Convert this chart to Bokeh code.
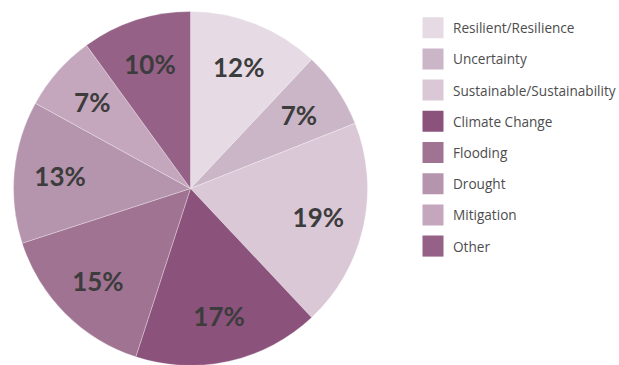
import math
from bokeh.plotting import figure
from bokeh.models import ColumnDataSource, Range1d
from bokeh.core.properties import value
from bokeh.embed import file_html
from bokeh.resources import INLINE

categories = ["Resilient/Resilience", "Uncertainty", "Sustainable/Sustainability",
              "Climate Change", "Flooding", "Drought", "Mitigation", "Other"]
shares = [12, 7, 19, 17, 15, 13, 7, 10]
colors = ["#e6dbe4", "#cbb6c8", "#dac8d7", "#8b527c", "#a07392", "#b594ad", "#c4a6bd", "#956187"]

W, H = 619, 365
CX, CY, R = 190, H - 188, 177

total = sum(shares)
starts, ends, lx, ly, labels = [], [], [], [], []
cum = 0.0
for s in shares:
    a0 = math.pi / 2 - 2 * math.pi * cum / total
    cum += s
    a1 = math.pi / 2 - 2 * math.pi * cum / total
    starts.append(a0)
    ends.append(a1)
    mid = (a0 + a1) / 2
    lx.append(CX + 0.74 * R * math.cos(mid))
    ly.append(CY + 0.74 * R * math.sin(mid))
    labels.append(f"{s}%")

src = ColumnDataSource(dict(start=starts, end=ends, color=colors, lx=lx, ly=ly, label=labels))

p = figure(width=W, height=H, output_backend="svg", toolbar_location=None,
           x_range=Range1d(0, W), y_range=Range1d(0, H), min_border=0)
p.axis.visible = False
p.grid.visible = False
p.outline_line_color = None
p.background_fill_color = "white"
p.border_fill_color = "white"

p.wedge(x=CX, y=CY, radius=R, start_angle="start", end_angle="end", direction="clock",
        fill_color="color", line_color="white", line_alpha=0.5, line_width=0.6, source=src)
p.text(x="lx", y="ly", text="label", source=src, text_align="center", text_baseline="middle",
       text_font=value("Lato"), text_font_style="bold", text_font_size="26px", text_color="#3c3c3c")

# legend
n = len(categories)
leg_y = [H - (27.2 + 31.2 * i) for i in range(n)]
leg_src = ColumnDataSource(dict(y=leg_y, color=colors, name=categories))
p.rect(x=432.5, y="y", width=21, height=21, fill_color="color", line_color=None, source=leg_src)
p.text(x=452.5, y="y", text="name", source=leg_src, text_align="left", text_baseline="middle",
       text_font=value("Open Sans"), text_font_size="13.6px", text_color="#4d4d4d")

open("out.html", "w").write(file_html(p, INLINE))
